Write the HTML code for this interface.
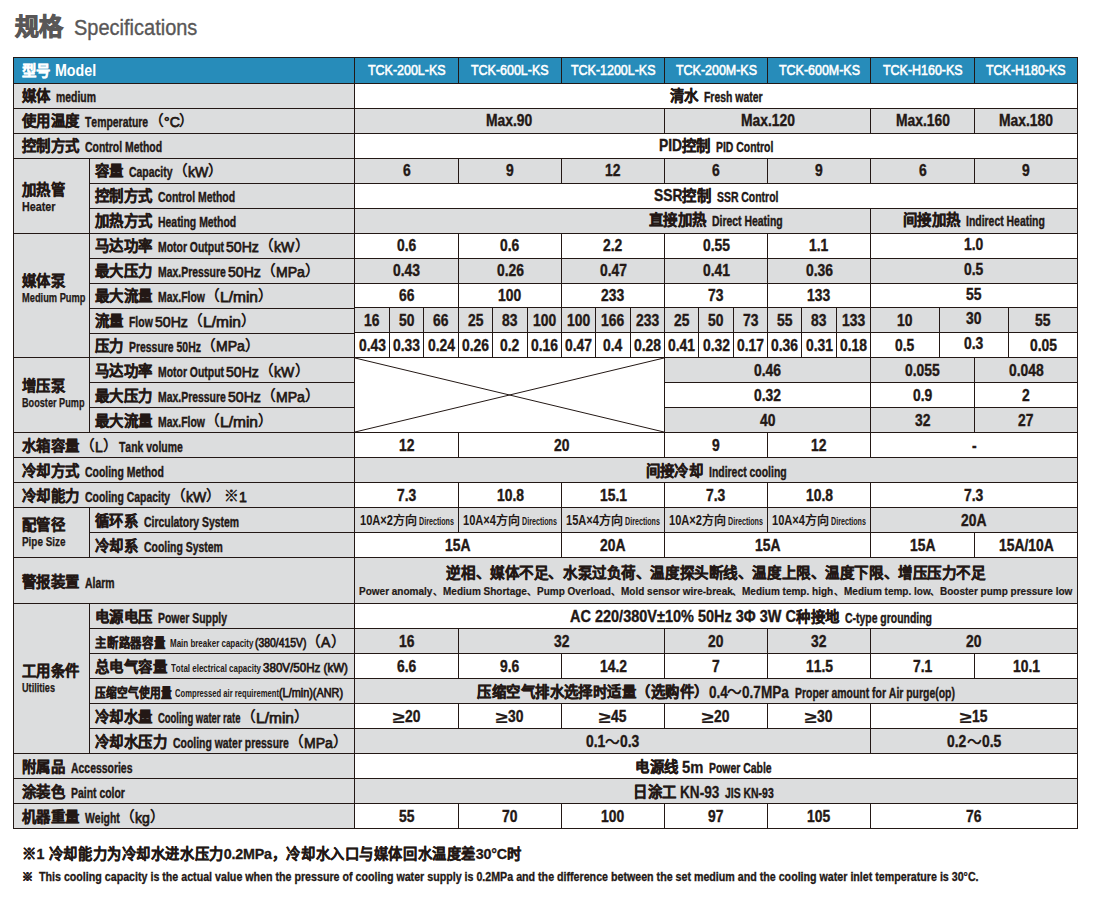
<!DOCTYPE html>
<html lang="zh-CN">
<head>
<meta charset="utf-8">
<title>规格 Specifications</title>
<style>
html,body{margin:0;padding:0;background:#fff}
body{width:1098px;height:912px;position:relative;overflow:hidden;font-family:"Liberation Sans",sans-serif;color:#231815;font-kerning:none}
.c{position:absolute;box-sizing:border-box;border:1px solid #231815;display:flex;align-items:center;white-space:nowrap;overflow:hidden;font-size:14px;line-height:1}
.t{white-space:nowrap;line-height:18px}
.g{background:#dcddde}
.w{background:#fff}
.h{background:#278cba;color:#fff}
.ctr{justify-content:center}
.ctr .t{text-align:center}
.dn1 .t{position:relative;top:1px}
.l1{padding-left:8px}
.l2{padding-left:5px}
.hl{padding-left:8px}
.grp{padding-left:8px;overflow:visible;z-index:2}
.x{display:inline-block;transform-origin:0 50%;white-space:nowrap;position:relative}
.e{font-size:14.2px;transform:scaleX(0.735);font-weight:bold}
.n{font-size:17px;transform:scaleX(0.815);font-weight:bold}
.m{font-size:15.3px;transform:scaleX(0.92);font-weight:normal}
.mb{font-size:17px;transform:scaleX(0.8);font-weight:bold}
.he{font-size:16.0px;transform:scaleX(0.89);font-weight:bold}
.hm{font-size:15.2px;transform:scaleX(0.82);font-weight:normal}
.ge{font-size:12.7px;transform:scaleX(0.78);font-weight:bold}
.es{font-size:10.5px;transform:scaleX(0.76);font-weight:bold}
.ms{font-size:13.0px;transform:scaleX(0.8);font-weight:normal}
.ds{font-size:10px;transform:scaleX(0.715);font-weight:bold}
.dn{font-size:15px;transform:scaleX(0.74);font-weight:bold}
.a2{font-size:11.5px;transform:scaleX(0.87);font-weight:bold}
.f2{font-size:11.9px;transform:scaleX(0.897);font-weight:bold}
.gq{font-size:16.0px;transform:scaleX(1.35);font-weight:bold}
.t2{font-size:21.5px;transform:scaleX(0.93);font-weight:normal}
.z{font-weight:bold;font-size:14.4px;letter-spacing:0.45px;-webkit-text-stroke:0.35px #231815}
.zs{font-size:12.6px;letter-spacing:0;-webkit-text-stroke:0.3px #231815}
.zt{font-size:12.6px;letter-spacing:0;-webkit-text-stroke:0.3px #231815}
.e{margin-left:5.5px;top:1px;-webkit-text-stroke:0.4px #231815}
.gq{top:0.5px;-webkit-text-stroke:0.2px #231815}
.n{top:0px;-webkit-text-stroke:0.4px #231815}
.m,.ms{-webkit-text-stroke:0.75px #231815;top:0.5px}
.m.b{margin-left:0;-webkit-text-stroke:0.7px #231815}
.e.e0{margin-left:1px}
.es.e1{margin-left:2.5px}
.hzh+.he{margin-left:5px}
.hzh{font-weight:bold;font-size:14.4px;-webkit-text-stroke:0.35px #fff}
.hm{-webkit-text-stroke:0.6px #fff;top:-0.5px}
.p{font-size:14.7px;font-weight:bold}
.m.hz{margin-left:2px}
.es{margin-left:4px}
.ms{margin-left:2px}
.ms.nm{margin-left:0}
.mb{top:0.5px;-webkit-text-stroke:0.3px #231815}
.mb.sp{margin-left:4px}
.m.nm{margin-left:0}
.til{font-size:14.7px;font-weight:bold}
.dz{font-size:12px;font-weight:bold}
.ds{margin-left:2px}
.g1{line-height:18px}
.g2{line-height:14px}
.ge{-webkit-text-stroke:0.25px #231815}
.al1{font-weight:bold;font-size:14.57px;letter-spacing:-0.43px;line-height:19px;-webkit-text-stroke:0.35px #231815}
.al2{line-height:15px}
.sep{font-size:9.5px;font-weight:bold}
.a2{-webkit-text-stroke:0.2px #231815}
.f2{-webkit-text-stroke:0.3px #231815}
.kome{margin-left:3px}
.t1{position:absolute;left:14.5px;top:10px;font-size:24px;font-weight:bold;color:#595757;line-height:34px;-webkit-text-stroke:0.9px #595757}
.tt2{position:absolute;left:74px;top:15px;color:#595757;line-height:26px;-webkit-text-stroke:0.35px #595757}
.fl{letter-spacing:-0.2px}
.kome2{font-size:11px;font-weight:bold;-webkit-text-stroke:0.4px #231815;margin-right:5.5px}
.f1{position:absolute;left:22px;top:845px;font-size:14.3px;letter-spacing:0.57px;font-weight:bold;line-height:18px;white-space:nowrap;-webkit-text-stroke:0.3px #231815}
.ff2{position:absolute;left:22px;top:867.5px;line-height:15px;white-space:nowrap}
svg{display:block}
</style>
</head>
<body>
<div class="t1">规格</div>
<div class="tt2"><span class="x t2" style="margin-right:-9.29px">Specifications</span></div>
<div class="c h hl" style="left:13px;top:57px;width:342px;height:27px;"><div class="t"><span class="hzh">型号</span><span class="x he" style="margin-right:-5.08px">Model</span></div></div>
<div class="c h ctr" style="left:354px;top:57px;width:105px;height:27px;"><div class="t"><span class="x hm" style="margin-right:-17.02px">TCK-200L-KS</span></div></div>
<div class="c h ctr" style="left:458px;top:57px;width:104px;height:27px;"><div class="t"><span class="x hm" style="margin-right:-17.02px">TCK-600L-KS</span></div></div>
<div class="c h ctr" style="left:561px;top:57px;width:104px;height:27px;"><div class="t"><span class="x hm" style="margin-right:-18.54px">TCK-1200L-KS</span></div></div>
<div class="c h ctr" style="left:664px;top:57px;width:104px;height:27px;"><div class="t"><span class="x hm" style="margin-right:-17.78px">TCK-200M-KS</span></div></div>
<div class="c h ctr" style="left:767px;top:57px;width:104px;height:27px;"><div class="t"><span class="x hm" style="margin-right:-17.78px">TCK-600M-KS</span></div></div>
<div class="c h ctr" style="left:870px;top:57px;width:105px;height:27px;"><div class="t"><span class="x hm" style="margin-right:-17.47px">TCK-H160-KS</span></div></div>
<div class="c h ctr" style="left:974px;top:57px;width:104px;height:27px;"><div class="t"><span class="x hm" style="margin-right:-17.47px">TCK-H180-KS</span></div></div>
<div class="c g l1" style="left:13px;top:83px;width:342px;height:26px;"><div class="t"><span class="z">媒体</span><span class="x e" style="margin-right:-14.42px">medium</span></div></div>
<div class="c w ctr" style="left:354px;top:83px;width:724px;height:26px;"><div class="t"><span class="z">清水</span><span class="x e" style="margin-right:-21.10px">Fresh&nbsp;water</span></div></div>
<div class="c g l1" style="left:13px;top:108px;width:342px;height:26px;"><div class="t"><span class="z">使用温度</span><span class="x e" style="margin-right:-22.78px">Temperature</span><span class="p pl">（</span><span class="x m" style="margin-right:-1.37px">°C</span><span class="p">）</span></div></div>
<div class="c g ctr" style="left:354px;top:108px;width:311px;height:26px;"><div class="t"><span class="x n" style="margin-right:-10.49px">Max.90</span></div></div>
<div class="c g ctr" style="left:664px;top:108px;width:207px;height:26px;"><div class="t"><span class="x n" style="margin-right:-12.24px">Max.120</span></div></div>
<div class="c g ctr" style="left:870px;top:108px;width:105px;height:26px;"><div class="t"><span class="x n" style="margin-right:-12.24px">Max.160</span></div></div>
<div class="c g ctr" style="left:974px;top:108px;width:104px;height:26px;"><div class="t"><span class="x n" style="margin-right:-12.24px">Max.180</span></div></div>
<div class="c g l1" style="left:13px;top:133px;width:342px;height:26px;"><div class="t"><span class="z">控制方式</span><span class="x e" style="margin-right:-27.78px">Control&nbsp;Method</span></div></div>
<div class="c w ctr" style="left:354px;top:133px;width:724px;height:26px;"><div class="t"><span class="x n" style="margin-right:-5.24px">PID</span><span class="z">控制</span><span class="x e" style="margin-right:-20.68px">PID&nbsp;Control</span></div></div>
<div class="c g grp" style="left:13px;top:158px;width:77px;height:76px;padding-top:2px"><div class="t"><div class="g1"><span class="z">加热管</span></div><div class="g2"><span class="x ge" style="transform:scaleX(0.848);margin-right:-6.00px">Heater</span></div></div></div>
<div class="c g l2" style="left:89px;top:158px;width:266px;height:26px;"><div class="t"><span class="z">容量</span><span class="x e" style="margin-right:-15.67px">Capacity</span><span class="p pl">（</span><span class="x m" style="margin-right:-1.77px">kW</span><span class="p">）</span></div></div>
<div class="c g ctr" style="left:354px;top:158px;width:105px;height:26px;"><div class="t"><span class="x n" style="margin-right:-1.75px">6</span></div></div>
<div class="c g ctr" style="left:458px;top:158px;width:104px;height:26px;"><div class="t"><span class="x n" style="margin-right:-1.75px">9</span></div></div>
<div class="c g ctr" style="left:561px;top:158px;width:104px;height:26px;"><div class="t"><span class="x n" style="margin-right:-3.50px">12</span></div></div>
<div class="c g ctr" style="left:664px;top:158px;width:104px;height:26px;"><div class="t"><span class="x n" style="margin-right:-1.75px">6</span></div></div>
<div class="c g ctr" style="left:767px;top:158px;width:104px;height:26px;"><div class="t"><span class="x n" style="margin-right:-1.75px">9</span></div></div>
<div class="c g ctr" style="left:870px;top:158px;width:105px;height:26px;"><div class="t"><span class="x n" style="margin-right:-1.75px">6</span></div></div>
<div class="c g ctr" style="left:974px;top:158px;width:104px;height:26px;"><div class="t"><span class="x n" style="margin-right:-1.75px">9</span></div></div>
<div class="c g l2" style="left:89px;top:183px;width:266px;height:26px;"><div class="t"><span class="z">控制方式</span><span class="x e" style="margin-right:-27.78px">Control&nbsp;Method</span></div></div>
<div class="c w ctr" style="left:354px;top:183px;width:724px;height:26px;"><div class="t"><span class="x n" style="margin-right:-6.47px">SSR</span><span class="z">控制</span><span class="x e" style="margin-right:-22.14px">SSR&nbsp;Control</span></div></div>
<div class="c g l2" style="left:89px;top:208px;width:266px;height:26px;"><div class="t"><span class="z">加热方式</span><span class="x e" style="margin-right:-28.20px">Heating&nbsp;Method</span></div></div>
<div class="c g ctr" style="left:354px;top:208px;width:517px;height:26px;padding-left:207px;padding-bottom:2px"><div class="t"><span class="z">直接加热</span><span class="x e" style="margin-right:-25.49px">Direct&nbsp;Heating</span></div></div>
<div class="c g ctr" style="left:870px;top:208px;width:208px;height:26px;padding-bottom:2px"><div class="t"><span class="z">间接加热</span><span class="x e" style="margin-right:-28.41px">Indirect&nbsp;Heating</span></div></div>
<div class="c g grp" style="left:13px;top:233px;width:77px;height:125px;padding-bottom:14px"><div class="t"><div class="g1"><span class="z">媒体泵</span></div><div class="g2"><span class="x ge" style="transform:scaleX(0.732);margin-right:-23.20px">Medium&nbsp;Pump</span></div></div></div>
<div class="c g l2" style="left:89px;top:233px;width:266px;height:26px;"><div class="t"><span class="z">马达功率</span><span class="x e" style="margin-right:-23.80px">Motor&nbsp;Output</span><span class="x m hz" style="margin-right:-2.86px">50Hz</span><span class="p pl">（</span><span class="x m" style="margin-right:-1.77px">kW</span><span class="p">）</span></div></div>
<div class="c w ctr" style="left:354px;top:233px;width:105px;height:26px;"><div class="t"><span class="x n" style="margin-right:-4.37px">0.6</span></div></div>
<div class="c w ctr" style="left:458px;top:233px;width:104px;height:26px;"><div class="t"><span class="x n" style="margin-right:-4.37px">0.6</span></div></div>
<div class="c w ctr" style="left:561px;top:233px;width:104px;height:26px;"><div class="t"><span class="x n" style="margin-right:-4.37px">2.2</span></div></div>
<div class="c w ctr" style="left:664px;top:233px;width:104px;height:26px;"><div class="t"><span class="x n" style="margin-right:-6.12px">0.55</span></div></div>
<div class="c w ctr" style="left:767px;top:233px;width:104px;height:26px;"><div class="t"><span class="x n" style="margin-right:-4.37px">1.1</span></div></div>
<div class="c w ctr" style="left:870px;top:233px;width:208px;height:26px;padding-bottom:2px"><div class="t"><span class="x n" style="margin-right:-4.37px">1.0</span></div></div>
<div class="c g l2" style="left:89px;top:258px;width:266px;height:26px;"><div class="t"><span class="z">最大压力</span><span class="x e" style="margin-right:-24.45px">Max.Pressure</span><span class="x m hz" style="margin-right:-2.86px">50Hz</span><span class="p pl">（</span><span class="x m" style="margin-right:-2.52px">MPa</span><span class="p">）</span></div></div>
<div class="c g ctr" style="left:354px;top:258px;width:105px;height:26px;"><div class="t"><span class="x n" style="margin-right:-6.12px">0.43</span></div></div>
<div class="c g ctr" style="left:458px;top:258px;width:104px;height:26px;"><div class="t"><span class="x n" style="margin-right:-6.12px">0.26</span></div></div>
<div class="c g ctr" style="left:561px;top:258px;width:104px;height:26px;"><div class="t"><span class="x n" style="margin-right:-6.12px">0.47</span></div></div>
<div class="c g ctr" style="left:664px;top:258px;width:104px;height:26px;"><div class="t"><span class="x n" style="margin-right:-6.12px">0.41</span></div></div>
<div class="c g ctr" style="left:767px;top:258px;width:104px;height:26px;"><div class="t"><span class="x n" style="margin-right:-6.12px">0.36</span></div></div>
<div class="c g ctr" style="left:870px;top:258px;width:208px;height:26px;padding-bottom:2px"><div class="t"><span class="x n" style="margin-right:-4.37px">0.5</span></div></div>
<div class="c g l2" style="left:89px;top:283px;width:266px;height:26px;"><div class="t"><span class="z">最大流量</span><span class="x e" style="margin-right:-16.92px">Max.Flow</span><span class="p pl">（</span><span class="x m" style="transform:scaleX(1.016);margin-right:0.59px">L/min</span><span class="p">）</span></div></div>
<div class="c w ctr" style="left:354px;top:283px;width:105px;height:25px;"><div class="t"><span class="x n" style="margin-right:-3.50px">66</span></div></div>
<div class="c w ctr" style="left:458px;top:283px;width:104px;height:25px;"><div class="t"><span class="x n" style="margin-right:-5.25px">100</span></div></div>
<div class="c w ctr" style="left:561px;top:283px;width:104px;height:25px;"><div class="t"><span class="x n" style="margin-right:-5.25px">233</span></div></div>
<div class="c w ctr" style="left:664px;top:283px;width:104px;height:25px;"><div class="t"><span class="x n" style="margin-right:-3.50px">73</span></div></div>
<div class="c w ctr" style="left:767px;top:283px;width:104px;height:25px;"><div class="t"><span class="x n" style="margin-right:-5.25px">133</span></div></div>
<div class="c w ctr" style="left:870px;top:283px;width:208px;height:25px;padding-bottom:2px"><div class="t"><span class="x n" style="margin-right:-3.50px">55</span></div></div>
<div class="c g l2" style="left:89px;top:308px;width:266px;height:26px;"><div class="t"><span class="z">流量</span><span class="x e" style="margin-right:-8.56px">Flow</span><span class="x m hz" style="margin-right:-2.86px">50Hz</span><span class="p pl">（</span><span class="x m" style="transform:scaleX(1.016);margin-right:0.59px">L/min</span><span class="p">）</span></div></div>
<div class="c g ctr dn1" style="left:354px;top:307px;width:36px;height:26px;"><div class="t"><span class="x n" style="margin-right:-3.50px">16</span></div></div>
<div class="c g ctr dn1" style="left:389px;top:307px;width:35px;height:26px;"><div class="t"><span class="x n" style="margin-right:-3.50px">50</span></div></div>
<div class="c g ctr dn1" style="left:423px;top:307px;width:36px;height:26px;"><div class="t"><span class="x n" style="margin-right:-3.50px">66</span></div></div>
<div class="c g ctr dn1" style="left:458px;top:307px;width:35px;height:26px;"><div class="t"><span class="x n" style="margin-right:-3.50px">25</span></div></div>
<div class="c g ctr dn1" style="left:492px;top:307px;width:36px;height:26px;"><div class="t"><span class="x n" style="margin-right:-3.50px">83</span></div></div>
<div class="c g ctr dn1" style="left:527px;top:307px;width:35px;height:26px;"><div class="t"><span class="x n" style="margin-right:-5.25px">100</span></div></div>
<div class="c g ctr dn1" style="left:561px;top:307px;width:35px;height:26px;"><div class="t"><span class="x n" style="margin-right:-5.25px">100</span></div></div>
<div class="c g ctr dn1" style="left:595px;top:307px;width:36px;height:26px;"><div class="t"><span class="x n" style="margin-right:-5.25px">166</span></div></div>
<div class="c g ctr dn1" style="left:630px;top:307px;width:35px;height:26px;"><div class="t"><span class="x n" style="margin-right:-5.25px">233</span></div></div>
<div class="c g ctr dn1" style="left:664px;top:307px;width:35px;height:26px;"><div class="t"><span class="x n" style="margin-right:-3.50px">25</span></div></div>
<div class="c g ctr dn1" style="left:698px;top:307px;width:36px;height:26px;"><div class="t"><span class="x n" style="margin-right:-3.50px">50</span></div></div>
<div class="c g ctr dn1" style="left:733px;top:307px;width:35px;height:26px;"><div class="t"><span class="x n" style="margin-right:-3.50px">73</span></div></div>
<div class="c g ctr dn1" style="left:767px;top:307px;width:35px;height:26px;"><div class="t"><span class="x n" style="margin-right:-3.50px">55</span></div></div>
<div class="c g ctr dn1" style="left:801px;top:307px;width:36px;height:26px;"><div class="t"><span class="x n" style="margin-right:-3.50px">83</span></div></div>
<div class="c g ctr dn1" style="left:836px;top:307px;width:35px;height:26px;"><div class="t"><span class="x n" style="margin-right:-5.25px">133</span></div></div>
<div class="c g ctr dn1" style="left:870px;top:307px;width:70px;height:26px;"><div class="t"><span class="x n" style="margin-right:-3.50px">10</span></div></div>
<div class="c g ctr dn1" style="left:939px;top:307px;width:70px;height:26px;padding-bottom:4px"><div class="t"><span class="x n" style="margin-right:-3.50px">30</span></div></div>
<div class="c g ctr dn1" style="left:1008px;top:307px;width:70px;height:26px;"><div class="t"><span class="x n" style="margin-right:-3.50px">55</span></div></div>
<div class="c g l2" style="left:89px;top:333px;width:266px;height:25px;"><div class="t"><span class="z">压力</span><span class="x e" style="margin-right:-25.92px">Pressure&nbsp;50Hz</span><span class="p pl">（</span><span class="x m" style="margin-right:-2.52px">MPa</span><span class="p">）</span></div></div>
<div class="c w ctr dn1" style="left:354px;top:332px;width:36px;height:26px;"><div class="t"><span class="x n" style="margin-right:-6.12px">0.43</span></div></div>
<div class="c w ctr dn1" style="left:389px;top:332px;width:35px;height:26px;"><div class="t"><span class="x n" style="margin-right:-6.12px">0.33</span></div></div>
<div class="c w ctr dn1" style="left:423px;top:332px;width:36px;height:26px;"><div class="t"><span class="x n" style="margin-right:-6.12px">0.24</span></div></div>
<div class="c w ctr dn1" style="left:458px;top:332px;width:35px;height:26px;"><div class="t"><span class="x n" style="margin-right:-6.12px">0.26</span></div></div>
<div class="c w ctr dn1" style="left:492px;top:332px;width:36px;height:26px;"><div class="t"><span class="x n" style="margin-right:-4.37px">0.2</span></div></div>
<div class="c w ctr dn1" style="left:527px;top:332px;width:35px;height:26px;"><div class="t"><span class="x n" style="margin-right:-6.12px">0.16</span></div></div>
<div class="c w ctr dn1" style="left:561px;top:332px;width:35px;height:26px;"><div class="t"><span class="x n" style="margin-right:-6.12px">0.47</span></div></div>
<div class="c w ctr dn1" style="left:595px;top:332px;width:36px;height:26px;"><div class="t"><span class="x n" style="margin-right:-4.37px">0.4</span></div></div>
<div class="c w ctr dn1" style="left:630px;top:332px;width:35px;height:26px;"><div class="t"><span class="x n" style="margin-right:-6.12px">0.28</span></div></div>
<div class="c w ctr dn1" style="left:664px;top:332px;width:35px;height:26px;"><div class="t"><span class="x n" style="margin-right:-6.12px">0.41</span></div></div>
<div class="c w ctr dn1" style="left:698px;top:332px;width:36px;height:26px;"><div class="t"><span class="x n" style="margin-right:-6.12px">0.32</span></div></div>
<div class="c w ctr dn1" style="left:733px;top:332px;width:35px;height:26px;"><div class="t"><span class="x n" style="margin-right:-6.12px">0.17</span></div></div>
<div class="c w ctr dn1" style="left:767px;top:332px;width:35px;height:26px;"><div class="t"><span class="x n" style="margin-right:-6.12px">0.36</span></div></div>
<div class="c w ctr dn1" style="left:801px;top:332px;width:36px;height:26px;"><div class="t"><span class="x n" style="margin-right:-6.12px">0.31</span></div></div>
<div class="c w ctr dn1" style="left:836px;top:332px;width:35px;height:26px;"><div class="t"><span class="x n" style="margin-right:-6.12px">0.18</span></div></div>
<div class="c w ctr dn1" style="left:870px;top:332px;width:70px;height:26px;"><div class="t"><span class="x n" style="margin-right:-4.37px">0.5</span></div></div>
<div class="c w ctr dn1" style="left:939px;top:332px;width:70px;height:26px;padding-bottom:4px"><div class="t"><span class="x n" style="margin-right:-4.37px">0.3</span></div></div>
<div class="c w ctr dn1" style="left:1008px;top:332px;width:70px;height:26px;"><div class="t"><span class="x n" style="margin-right:-6.12px">0.05</span></div></div>
<div class="c g grp" style="left:13px;top:357px;width:77px;height:76px;padding-bottom:3px"><div class="t"><div class="g1"><span class="z">增压泵</span></div><div class="g2"><span class="x ge" style="transform:scaleX(0.721);margin-right:-24.22px">Booster&nbsp;Pump</span></div></div></div>
<div class="c w" style="left:354px;top:357px;width:311px;height:76px;"><div class="t"><svg width="309" height="74" viewBox="0 0 309 74"><path d="M0 0L309 74M0 74L309 0" stroke="#231815" stroke-width="1" fill="none"/></svg></div></div>
<div class="c g l2 dn1" style="left:89px;top:357px;width:266px;height:26px;"><div class="t"><span class="z">马达功率</span><span class="x e" style="margin-right:-23.80px">Motor&nbsp;Output</span><span class="x m hz" style="margin-right:-2.86px">50Hz</span><span class="p pl">（</span><span class="x m" style="margin-right:-1.77px">kW</span><span class="p">）</span></div></div>
<div class="c g ctr dn1" style="left:664px;top:357px;width:207px;height:26px;"><div class="t"><span class="x n" style="margin-right:-6.12px">0.46</span></div></div>
<div class="c g ctr dn1" style="left:870px;top:357px;width:105px;height:26px;"><div class="t"><span class="x n" style="margin-right:-7.87px">0.055</span></div></div>
<div class="c g ctr dn1" style="left:974px;top:357px;width:104px;height:26px;"><div class="t"><span class="x n" style="margin-right:-7.87px">0.048</span></div></div>
<div class="c g l2 dn1" style="left:89px;top:382px;width:266px;height:26px;"><div class="t"><span class="z">最大压力</span><span class="x e" style="margin-right:-24.45px">Max.Pressure</span><span class="x m hz" style="margin-right:-2.86px">50Hz</span><span class="p pl">（</span><span class="x m" style="margin-right:-2.52px">MPa</span><span class="p">）</span></div></div>
<div class="c w ctr dn1" style="left:664px;top:382px;width:207px;height:26px;"><div class="t"><span class="x n" style="margin-right:-6.12px">0.32</span></div></div>
<div class="c w ctr dn1" style="left:870px;top:382px;width:105px;height:26px;"><div class="t"><span class="x n" style="margin-right:-4.37px">0.9</span></div></div>
<div class="c w ctr dn1" style="left:974px;top:382px;width:104px;height:26px;"><div class="t"><span class="x n" style="margin-right:-1.75px">2</span></div></div>
<div class="c g l2 dn1" style="left:89px;top:407px;width:266px;height:26px;"><div class="t"><span class="z">最大流量</span><span class="x e" style="margin-right:-16.92px">Max.Flow</span><span class="p pl">（</span><span class="x m" style="transform:scaleX(1.016);margin-right:0.59px">L/min</span><span class="p">）</span></div></div>
<div class="c g ctr dn1" style="left:664px;top:407px;width:207px;height:26px;"><div class="t"><span class="x n" style="margin-right:-3.50px">40</span></div></div>
<div class="c g ctr dn1" style="left:870px;top:407px;width:105px;height:26px;"><div class="t"><span class="x n" style="margin-right:-3.50px">32</span></div></div>
<div class="c g ctr dn1" style="left:974px;top:407px;width:104px;height:26px;"><div class="t"><span class="x n" style="margin-right:-3.50px">27</span></div></div>
<div class="c g l1 dn1" style="left:13px;top:432px;width:342px;height:26px;"><div class="t"><span class="z">水箱容量</span><span class="p pl">（</span><span class="x m" style="margin-right:-0.68px">L</span><span class="p">）</span><span class="x e e0" style="margin-right:-22.98px">Tank&nbsp;volume</span></div></div>
<div class="c w ctr dn1" style="left:354px;top:432px;width:105px;height:26px;"><div class="t"><span class="x n" style="margin-right:-3.50px">12</span></div></div>
<div class="c w ctr dn1" style="left:458px;top:432px;width:207px;height:26px;"><div class="t"><span class="x n" style="margin-right:-3.50px">20</span></div></div>
<div class="c w ctr dn1" style="left:664px;top:432px;width:104px;height:26px;"><div class="t"><span class="x n" style="margin-right:-1.75px">9</span></div></div>
<div class="c w ctr dn1" style="left:767px;top:432px;width:104px;height:26px;"><div class="t"><span class="x n" style="margin-right:-3.50px">12</span></div></div>
<div class="c w ctr dn1" style="left:870px;top:432px;width:208px;height:26px;"><div class="t"><span class="x n" style="margin-right:-1.05px">-</span></div></div>
<div class="c g l1 dn1" style="left:13px;top:457px;width:342px;height:26px;"><div class="t"><span class="z">冷却方式</span><span class="x e" style="margin-right:-28.40px">Cooling&nbsp;Method</span></div></div>
<div class="c g ctr dn1" style="left:354px;top:457px;width:724px;height:26px;"><div class="t"><span class="z">间接冷却</span><span class="x e" style="margin-right:-27.99px">Indirect&nbsp;cooling</span></div></div>
<div class="c g l1 dn1" style="left:13px;top:482px;width:342px;height:26px;"><div class="t"><span class="z">冷却能力</span><span class="x e" style="margin-right:-30.71px">Cooling&nbsp;Capacity</span><span class="p pl">（</span><span class="x m" style="margin-right:-1.77px">kW</span><span class="p">）</span><span class="p kome">※</span><span class="x m" style="margin-right:-0.68px">1</span></div></div>
<div class="c w ctr dn1" style="left:354px;top:482px;width:105px;height:26px;"><div class="t"><span class="x n" style="margin-right:-4.37px">7.3</span></div></div>
<div class="c w ctr dn1" style="left:458px;top:482px;width:104px;height:26px;"><div class="t"><span class="x n" style="margin-right:-6.12px">10.8</span></div></div>
<div class="c w ctr dn1" style="left:561px;top:482px;width:104px;height:26px;"><div class="t"><span class="x n" style="margin-right:-6.12px">15.1</span></div></div>
<div class="c w ctr dn1" style="left:664px;top:482px;width:104px;height:26px;"><div class="t"><span class="x n" style="margin-right:-4.37px">7.3</span></div></div>
<div class="c w ctr dn1" style="left:767px;top:482px;width:104px;height:26px;"><div class="t"><span class="x n" style="margin-right:-6.12px">10.8</span></div></div>
<div class="c w ctr dn1" style="left:870px;top:482px;width:208px;height:26px;"><div class="t"><span class="x n" style="margin-right:-4.37px">7.3</span></div></div>
<div class="c g grp" style="left:13px;top:507px;width:77px;height:51px;padding-bottom:1px"><div class="t"><div class="g1"><span class="z">配管径</span></div><div class="g2"><span class="x ge" style="transform:scaleX(0.781);margin-right:-12.22px">Pipe&nbsp;Size</span></div></div></div>
<div class="c g l2 dn1" style="left:89px;top:507px;width:266px;height:26px;"><div class="t"><span class="z">循环系</span><span class="x e" style="margin-right:-34.27px">Circulatory&nbsp;System</span></div></div>
<div class="c g ctr dn1" style="left:354px;top:507px;width:105px;height:26px;"><div class="t"><span class="x dn" style="margin-right:-11.60px">10A×2</span><span class="dz">方向</span><span class="x ds" style="margin-right:-13.94px">Directions</span></div></div>
<div class="c g ctr dn1" style="left:458px;top:507px;width:104px;height:26px;"><div class="t"><span class="x dn" style="margin-right:-11.60px">10A×4</span><span class="dz">方向</span><span class="x ds" style="margin-right:-13.94px">Directions</span></div></div>
<div class="c g ctr dn1" style="left:561px;top:507px;width:104px;height:26px;"><div class="t"><span class="x dn" style="margin-right:-11.60px">15A×4</span><span class="dz">方向</span><span class="x ds" style="margin-right:-13.94px">Directions</span></div></div>
<div class="c g ctr dn1" style="left:664px;top:507px;width:104px;height:26px;"><div class="t"><span class="x dn" style="margin-right:-11.60px">10A×2</span><span class="dz">方向</span><span class="x ds" style="margin-right:-13.94px">Directions</span></div></div>
<div class="c g ctr dn1" style="left:767px;top:507px;width:104px;height:26px;"><div class="t"><span class="x dn" style="margin-right:-11.60px">10A×4</span><span class="dz">方向</span><span class="x ds" style="margin-right:-13.94px">Directions</span></div></div>
<div class="c g ctr dn1" style="left:870px;top:507px;width:208px;height:26px;"><div class="t"><span class="x n" style="margin-right:-5.77px">20A</span></div></div>
<div class="c g l2 dn1" style="left:89px;top:532px;width:266px;height:26px;"><div class="t"><span class="z">冷却系</span><span class="x e" style="margin-right:-28.41px">Cooling&nbsp;System</span></div></div>
<div class="c w ctr dn1" style="left:354px;top:532px;width:208px;height:26px;"><div class="t"><span class="x n" style="margin-right:-5.77px">15A</span></div></div>
<div class="c w ctr dn1" style="left:561px;top:532px;width:104px;height:26px;"><div class="t"><span class="x n" style="margin-right:-5.77px">20A</span></div></div>
<div class="c w ctr dn1" style="left:664px;top:532px;width:207px;height:26px;"><div class="t"><span class="x n" style="margin-right:-5.77px">15A</span></div></div>
<div class="c w ctr dn1" style="left:870px;top:532px;width:105px;height:26px;"><div class="t"><span class="x n" style="margin-right:-5.77px">15A</span></div></div>
<div class="c w ctr dn1" style="left:974px;top:532px;width:104px;height:26px;"><div class="t"><span class="x n" style="margin-right:-12.42px">15A/10A</span></div></div>
<div class="c g l1 dn1" style="left:13px;top:557px;width:342px;height:47px;"><div class="t"><span class="z">警报装置</span><span class="x e" style="margin-right:-10.66px">Alarm</span></div></div>
<div class="c g ctr dn1" style="left:354px;top:557px;width:724px;height:47px;"><div class="t"><div class="al1">逆相、媒体不足、水泵过负荷、温度探头断线、温度上限、温度下限、增压压力不足</div><div class="al2"><span class="x a2" style="margin-right:-10.97px">Power&nbsp;anomaly</span><span class="sep">、</span><span class="x a2" style="margin-right:-12.54px">Medium&nbsp;Shortage</span><span class="sep">、</span><span class="x a2" style="margin-right:-11.05px">Pump&nbsp;Overload</span><span class="sep">、</span><span class="x a2" style="margin-right:-16.70px">Mold&nbsp;sensor&nbsp;wire-break</span><span class="sep">、</span><span class="x a2" style="margin-right:-13.62px">Medium&nbsp;temp.&nbsp;high</span><span class="sep">、</span><span class="x a2" style="margin-right:-12.96px">Medium&nbsp;temp.&nbsp;low</span><span class="sep">、</span><span class="x a2" style="margin-right:-19.77px">Booster&nbsp;pump&nbsp;pressure&nbsp;low</span></div></div></div>
<div class="c g grp" style="left:13px;top:603px;width:77px;height:151px;padding-top:0px"><div class="t"><div class="g1"><span class="z">工用条件</span></div><div class="g2"><span class="x ge" style="transform:scaleX(0.720);margin-right:-12.83px">Utilities</span></div></div></div>
<div class="c g l2 dn1" style="left:89px;top:603px;width:266px;height:26px;"><div class="t"><span class="z">电源电压</span><span class="x e" style="margin-right:-24.86px">Power&nbsp;Supply</span></div></div>
<div class="c w ctr dn1" style="left:354px;top:603px;width:724px;height:26px;padding-left:70px"><div class="t"><span class="x n" style="transform:scaleX(0.852);margin-right:-39.19px">AC&nbsp;220/380V±10%&nbsp;50Hz&nbsp;3Φ&nbsp;3W&nbsp;C</span><span class="z">种接地</span><span class="x e" style="margin-right:-31.33px">C-type&nbsp;grounding</span></div></div>
<div class="c g l2 dn1" style="left:89px;top:628px;width:266px;height:26px;"><div class="t"><span class="x z zs" style="transform:scaleX(0.904);margin-right:-7.50px">主断路器容量</span><span class="x es" style="margin-right:-26.34px">Main&nbsp;breaker&nbsp;capacity</span><span class="x ms" style="margin-right:-12.87px">(380/415V)</span><span class="p pl">（</span><span class="x m" style="margin-right:-0.82px">A</span><span class="p">）</span></div></div>
<div class="c g ctr dn1" style="left:354px;top:628px;width:105px;height:26px;"><div class="t"><span class="x n" style="margin-right:-3.50px">16</span></div></div>
<div class="c g ctr dn1" style="left:458px;top:628px;width:207px;height:26px;"><div class="t"><span class="x n" style="margin-right:-3.50px">32</span></div></div>
<div class="c g ctr dn1" style="left:664px;top:628px;width:104px;height:26px;"><div class="t"><span class="x n" style="margin-right:-3.50px">20</span></div></div>
<div class="c g ctr dn1" style="left:767px;top:628px;width:104px;height:26px;"><div class="t"><span class="x n" style="margin-right:-3.50px">32</span></div></div>
<div class="c g ctr dn1" style="left:870px;top:628px;width:208px;height:26px;"><div class="t"><span class="x n" style="margin-right:-3.50px">20</span></div></div>
<div class="c g l2 dn1" style="left:89px;top:653px;width:266px;height:26px;"><div class="t"><span class="z">总电气容量</span><span class="x es" style="margin-right:-28.44px">Total&nbsp;electrical&nbsp;capacity</span><span class="x ms" style="transform:scaleX(0.891);margin-right:-10.37px">380V/50Hz&nbsp;(kW)</span></div></div>
<div class="c w ctr dn1" style="left:354px;top:653px;width:105px;height:26px;"><div class="t"><span class="x n" style="margin-right:-4.37px">6.6</span></div></div>
<div class="c w ctr dn1" style="left:458px;top:653px;width:104px;height:26px;"><div class="t"><span class="x n" style="margin-right:-4.37px">9.6</span></div></div>
<div class="c w ctr dn1" style="left:561px;top:653px;width:104px;height:26px;"><div class="t"><span class="x n" style="margin-right:-6.12px">14.2</span></div></div>
<div class="c w ctr dn1" style="left:664px;top:653px;width:104px;height:26px;"><div class="t"><span class="x n" style="margin-right:-1.75px">7</span></div></div>
<div class="c w ctr dn1" style="left:767px;top:653px;width:104px;height:26px;"><div class="t"><span class="x n" style="margin-right:-6.12px">11.5</span></div></div>
<div class="c w ctr dn1" style="left:870px;top:653px;width:105px;height:26px;"><div class="t"><span class="x n" style="margin-right:-4.37px">7.1</span></div></div>
<div class="c w ctr dn1" style="left:974px;top:653px;width:104px;height:26px;"><div class="t"><span class="x n" style="margin-right:-6.12px">10.1</span></div></div>
<div class="c g l2 dn1" style="left:89px;top:678px;width:266px;height:26px;"><div class="t"><span class="x z zt" style="transform:scaleX(0.852);margin-right:-13.50px">压缩空气使用量</span><span class="x es e1" style="transform:scaleX(0.727);margin-right:-38.97px">Compressed&nbsp;air&nbsp;requirement</span><span class="x ms nm" style="transform:scaleX(0.836);margin-right:-12.56px">(L/min)(ANR)</span></div></div>
<div class="c g ctr dn1" style="left:354px;top:678px;width:724px;height:26px;"><div class="t"><span class="z">压缩空气排水选择时适量（选购件）</span><span class="x mb" style="margin-right:-4.73px">0.4</span><span class="til">～</span><span class="x mb" style="margin-right:-11.72px">0.7MPa</span><span class="x e" style="margin-right:-57.65px">Proper&nbsp;amount&nbsp;for&nbsp;Air&nbsp;purge(op)</span></div></div>
<div class="c g l2 dn1" style="left:89px;top:703px;width:266px;height:26px;"><div class="t"><span class="z">冷却水量</span><span class="x e" style="transform:scaleX(0.666);margin-right:-41.28px">Cooling&nbsp;water&nbsp;rate</span><span class="p pl">（</span><span class="x m" style="transform:scaleX(1.016);margin-right:0.59px">L/min</span><span class="p">）</span></div></div>
<div class="c w ctr dn1" style="left:354px;top:703px;width:105px;height:26px;"><div class="t"><span class="x gq" style="margin-right:3.07px">≥</span><span class="x n" style="margin-right:-3.50px">20</span></div></div>
<div class="c w ctr dn1" style="left:458px;top:703px;width:104px;height:26px;"><div class="t"><span class="x gq" style="margin-right:3.07px">≥</span><span class="x n" style="margin-right:-3.50px">30</span></div></div>
<div class="c w ctr dn1" style="left:561px;top:703px;width:104px;height:26px;"><div class="t"><span class="x gq" style="margin-right:3.07px">≥</span><span class="x n" style="margin-right:-3.50px">45</span></div></div>
<div class="c w ctr dn1" style="left:664px;top:703px;width:104px;height:26px;"><div class="t"><span class="x gq" style="margin-right:3.07px">≥</span><span class="x n" style="margin-right:-3.50px">20</span></div></div>
<div class="c w ctr dn1" style="left:767px;top:703px;width:104px;height:26px;"><div class="t"><span class="x gq" style="margin-right:3.07px">≥</span><span class="x n" style="margin-right:-3.50px">30</span></div></div>
<div class="c w ctr dn1" style="left:870px;top:703px;width:208px;height:26px;"><div class="t"><span class="x gq" style="margin-right:3.07px">≥</span><span class="x n" style="margin-right:-3.50px">15</span></div></div>
<div class="c g l2 dn1" style="left:89px;top:728px;width:266px;height:26px;"><div class="t"><span class="z">冷却水压力</span><span class="x e" style="margin-right:-41.79px">Cooling&nbsp;water&nbsp;pressure</span><span class="p pl">（</span><span class="x m" style="margin-right:-2.52px">MPa</span><span class="p">）</span></div></div>
<div class="c g ctr dn1" style="left:354px;top:728px;width:517px;height:26px;"><div class="t"><span class="x n" style="margin-right:-4.37px">0.1</span><span class="til">～</span><span class="x n" style="margin-right:-4.37px">0.3</span></div></div>
<div class="c g ctr dn1" style="left:870px;top:728px;width:208px;height:26px;"><div class="t"><span class="x n" style="margin-right:-4.37px">0.2</span><span class="til">～</span><span class="x n" style="margin-right:-4.37px">0.5</span></div></div>
<div class="c g l1 dn1" style="left:13px;top:753px;width:342px;height:26px;"><div class="t"><span class="z">附属品</span><span class="x e" style="margin-right:-22.16px">Accessories</span></div></div>
<div class="c w ctr dn1" style="left:354px;top:753px;width:724px;height:26px;padding-right:25px"><div class="t"><span class="z">电源线</span><span class="x mb sp" style="transform:scaleX(0.871);margin-right:-3.18px">5m</span><span class="x e" style="margin-right:-22.57px">Power&nbsp;Cable</span></div></div>
<div class="c g l1 dn1" style="left:13px;top:778px;width:342px;height:26px;"><div class="t"><span class="z">涂装色</span><span class="x e" style="margin-right:-19.43px">Paint&nbsp;color</span></div></div>
<div class="c g ctr dn1" style="left:354px;top:778px;width:724px;height:26px;padding-right:25px"><div class="t"><span class="z">日涂工</span><span class="x mb sp" style="margin-right:-9.82px">KN-93</span><span class="x e" style="margin-right:-17.55px">JIS&nbsp;KN-93</span></div></div>
<div class="c g l1 dn1" style="left:13px;top:803px;width:342px;height:26px;"><div class="t"><span class="z">机器重量</span><span class="x e" style="margin-right:-12.53px">Weight</span><span class="p pl">（</span><span class="x m" style="margin-right:-1.29px">kg</span><span class="p">）</span></div></div>
<div class="c w ctr dn1" style="left:354px;top:803px;width:105px;height:26px;"><div class="t"><span class="x n" style="margin-right:-3.50px">55</span></div></div>
<div class="c w ctr dn1" style="left:458px;top:803px;width:104px;height:26px;"><div class="t"><span class="x n" style="margin-right:-3.50px">70</span></div></div>
<div class="c w ctr dn1" style="left:561px;top:803px;width:104px;height:26px;"><div class="t"><span class="x n" style="margin-right:-5.25px">100</span></div></div>
<div class="c w ctr dn1" style="left:664px;top:803px;width:104px;height:26px;"><div class="t"><span class="x n" style="margin-right:-3.50px">97</span></div></div>
<div class="c w ctr dn1" style="left:767px;top:803px;width:104px;height:26px;"><div class="t"><span class="x n" style="margin-right:-5.25px">105</span></div></div>
<div class="c w ctr dn1" style="left:870px;top:803px;width:208px;height:26px;"><div class="t"><span class="x n" style="margin-right:-3.50px">76</span></div></div>
<div class="f1">※<span class="fl">1</span> 冷却能力为冷却水进水压力<span class="fl">0.2MPa</span>，冷却水入口与媒体回水温度差<span class="fl">30°C</span>时</div>
<div class="ff2"><span class="kome2">※</span><span class="x f2" style="margin-right:-107.89px">This&nbsp;cooling&nbsp;capacity&nbsp;is&nbsp;the&nbsp;actual&nbsp;value&nbsp;when&nbsp;the&nbsp;pressure&nbsp;of&nbsp;cooling&nbsp;water&nbsp;supply&nbsp;is&nbsp;0.2MPa&nbsp;and&nbsp;the&nbsp;difference&nbsp;between&nbsp;the&nbsp;set&nbsp;medium&nbsp;and&nbsp;the&nbsp;cooling&nbsp;water&nbsp;inlet&nbsp;temperature&nbsp;is&nbsp;30°C.</span></div>
</body>
</html>
